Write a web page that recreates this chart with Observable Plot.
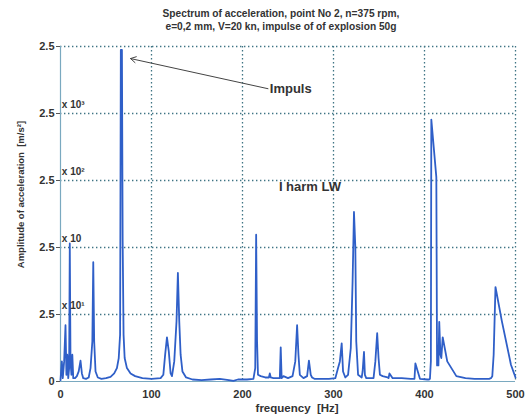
<!DOCTYPE html>
<html>
<head>
<meta charset="utf-8">
<script src="https://cdn.jsdelivr.net/npm/d3@7"></script>
<script src="https://cdn.jsdelivr.net/npm/@observablehq/plot@0.6"></script>
<style>
  html, body { margin: 0; padding: 0; background: #fff; }
  #wrap { width: 528px; height: 418px; position: relative; overflow: hidden; }
  #title { height: 36px; box-sizing: border-box; padding-top: 8px; padding-left: 34px; text-align: center;
           font: bold 10.2px "Liberation Sans", Arial, sans-serif; line-height: 12.5px; color: #333; }
  svg { display: block; }
</style>
</head>
<body>
<div id="wrap">
  <div id="title">Spectrum of acceleration, point No 2, n=375 rpm,<br>e=0,2 mm, V=20 kn, impulse of of explosion 50g</div>
  <div id="chart"></div>
</div>
<script>
// spectrum (frequency in Hz, amplitude in displayed grid units 0..5)
const freq = [0, 1.5, 2.5, 4, 5.5, 6.5, 7.5, 8.5, 9.5, 10.2, 11, 12, 13, 14, 16, 18, 20, 22, 23.5, 25, 28, 31, 33, 35, 36, 37, 38.5, 41, 45, 50, 55, 59, 62, 64, 65.5, 66.3, 67.5, 68.3, 69.3, 70.5, 73, 77, 82, 90, 100, 110, 113, 115, 117, 119, 121, 122.5, 125, 127.5, 129, 130.5, 132, 134, 138, 145, 155, 165, 175, 185, 190, 195, 205, 212, 214, 215, 216, 217, 220, 225, 229, 230, 231, 234, 241, 242, 243, 245, 250, 255, 258, 260, 261.5, 263, 267, 271, 273, 275, 276.5, 279, 285, 295, 302, 305, 307, 309, 310.5, 313, 316, 319, 321, 322.5, 324, 325, 327, 331, 332, 333.5, 334.5, 336, 340, 344, 346, 348, 349.5, 351, 354, 359.5, 360.5, 361.5, 365, 375, 385, 388, 389, 390, 395, 403, 405, 406, 407, 407.5, 413, 413.8, 414.8, 415.3, 416.2, 417.5, 418.5, 420, 425, 435, 445, 455, 462, 468, 471, 473, 474.5, 476, 478, 485, 495, 500];
const amp  = [0.02, 0.3, 0.05, 0.3, 0.84, 0.1, 0.4, 0.05, 0.2, 2.06, 0.3, 0.1, 0.4, 0.05, 0.05, 0.08, 0.15, 0.31, 0.12, 0.05, 0.04, 0.06, 0.2, 0.6, 1.78, 0.6, 0.15, 0.06, 0.04, 0.05, 0.07, 0.12, 0.2, 0.35, 0.7, 4.95, 4.95, 2.1, 0.7, 0.35, 0.2, 0.12, 0.08, 0.05, 0.04, 0.05, 0.1, 0.4, 0.66, 0.45, 0.12, 0.08, 0.3, 0.9, 1.62, 0.9, 0.4, 0.15, 0.06, 0.03, 0.02, 0.03, 0.04, 0.02, 0.01, 0.03, 0.03, 0.04, 0.2, 2.19, 0.6, 0.1, 0.08, 0.06, 0.06, 0.12, 0.06, 0.05, 0.05, 0.51, 0.05, 0.08, 0.05, 0.08, 0.3, 0.84, 0.4, 0.1, 0.05, 0.08, 0.31, 0.1, 0.06, 0.04, 0.04, 0.04, 0.05, 0.2, 0.3, 0.57, 0.15, 0.06, 0.1, 0.5, 1.5, 2.53, 2.0, 0.6, 0.1, 0.06, 0.15, 0.44, 0.1, 0.05, 0.05, 0.05, 0.3, 0.72, 0.35, 0.1, 0.08, 0.06, 0.05, 0.12, 0.05, 0.05, 0.04, 0.04, 0.04, 0.27, 0.04, 0.03, 0.03, 0.04, 0.3, 3.91, 3.05, 0.24, 0.24, 0.24, 0.89, 0.4, 0.35, 0.66, 0.3, 0.08, 0.05, 0.04, 0.04, 0.04, 0.04, 0.05, 0.08, 0.4, 1.41, 0.9, 0.25, 0.06, 0.04, 0.04, 0.04];

const xTicks = [0, 100, 200, 300, 400, 500];
const yTicks = [0, 1, 2, 3, 4, 5];
const yTickLabels = ["0", "2.5", "2.5", "2.5", "2.5", "2.5"];
const scaleNotes = ["x 10³", "x 10²", "x 10", "x 10¹"];
const scaleLevels = [4, 3, 2, 1];
const notes = ["Impuls", "I harm LW"];
const noteX = [230, 240];
const noteY = [4.37, 2.9];
const arrowFrom = [228, 4.37];
const arrowTo = [77, 4.82];

const spectrum = freq.map((f, i) => ({f, a: amp[i]}));
const scaleData = scaleNotes.map((t, i) => ({t, y: scaleLevels[i]}));
const noteData = notes.map((t, i) => ({t, x: noteX[i], y: noteY[i]}));

const gridStyle = {stroke: "#3f7484", strokeOpacity: 1, strokeWidth: 1.3, strokeDasharray: "1.4,2.6"};
const font = "'Liberation Sans', Arial, sans-serif";

const chart = Plot.plot({
  width: 528,
  height: 382,
  marginTop: 10,
  marginBottom: 37,
  marginLeft: 60,
  marginRight: 13,
  style: {fontFamily: font, background: "white", color: "#333"},
  x: {domain: [0, 500]},
  y: {domain: [0, 5]},
  marks: [
    Plot.gridY(yTicks.slice(1), gridStyle),
    Plot.gridX(xTicks.slice(1), gridStyle),
    Plot.ruleX([0], {stroke: "#7aa9c0", strokeWidth: 1.2}),
    Plot.ruleY([0], {stroke: "#7aa9c0", strokeWidth: 1.2}),
    Plot.axisY(yTicks, {tickFormat: d => yTickLabels[yTicks.indexOf(d)], tickSize: 4, tickPadding: 2,
      fontWeight: "bold", fontSize: 11, label: null, stroke: "#555"}),
    Plot.axisX(xTicks, {tickSize: 0, tickPadding: 9, fontWeight: "bold", fontSize: 11, label: null}),
    Plot.line(spectrum, {x: "f", y: "a", stroke: "#2f5fc8", strokeWidth: 1.8}),
    Plot.text(scaleData, {x: () => 1.5, y: "y", text: "t", dy: -9, textAnchor: "start",
      fontWeight: "bold", fontSize: 10, fill: "#333"}),
    Plot.arrow([0], {x1: () => arrowFrom[0], y1: () => arrowFrom[1], x2: () => arrowTo[0], y2: () => arrowTo[1],
      stroke: "#444", strokeWidth: 1, headLength: 9}),
    Plot.text(noteData, {x: "x", y: "y", text: "t", textAnchor: "start", fontSize: 13, fontWeight: 600, fill: "#333"}),
    Plot.text(["frequency  [Hz]"], {x: () => 260, frameAnchor: "bottom", dy: 30, fontSize: 11.5,
      fontWeight: "bold", fill: "#333"}),
    Plot.text(["Amplitude of acceleration  [m/s²]"], {y: () => 2.79, frameAnchor: "left", dx: -40, rotate: -90,
      textAnchor: "middle", fontSize: 9.5, fontWeight: "bold", fill: "#333"})
  ]
});
document.getElementById("chart").appendChild(chart);
</script>
</body>
</html>
